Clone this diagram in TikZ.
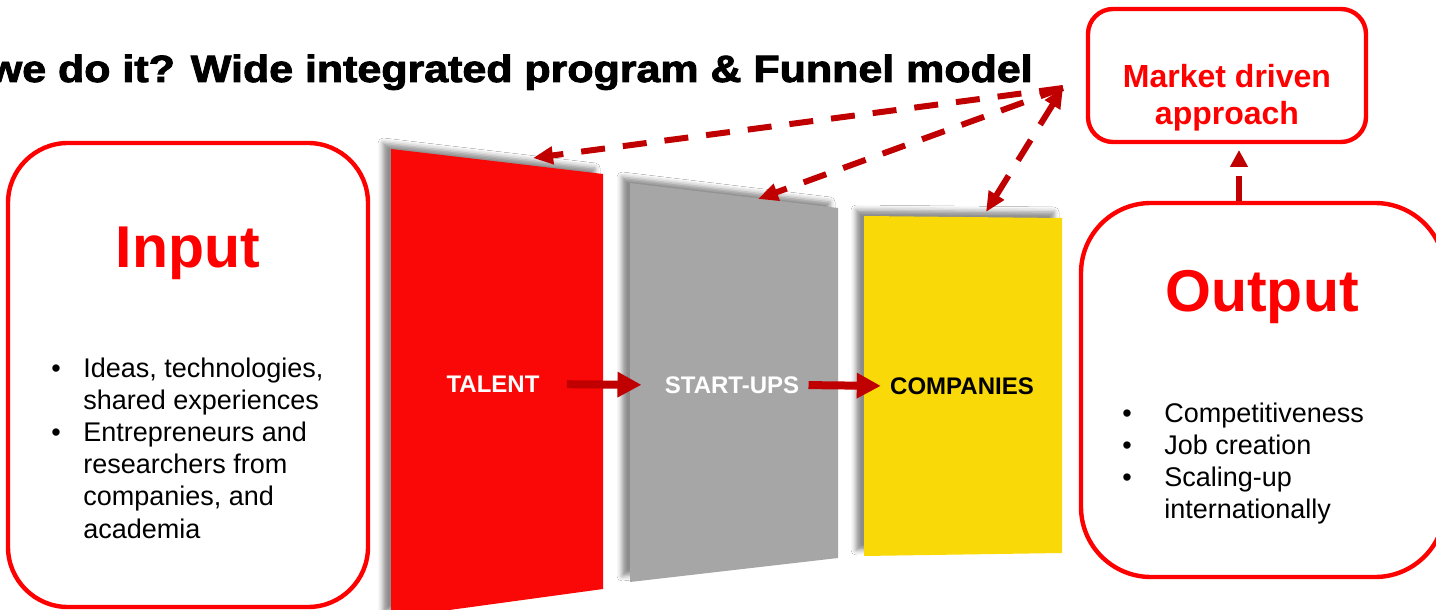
\documentclass[tikz,border=0pt]{standalone}
\usepackage{fontspec}
\setmainfont{Liberation Sans}
\newfontfamily\heavyfont{Liberation Sans Bold}[FakeBold=2.2]
\usetikzlibrary{arrows.meta,shadows.blur}
\definecolor{boxred}{RGB}{255,0,0}
\definecolor{darkred}{RGB}{192,0,0}
\definecolor{panelred}{RGB}{250,8,8}
\definecolor{panelgray}{RGB}{166,166,166}
\definecolor{panelyellow}{RGB}{249,217,8}
\tikzset{
  redbox/.style={draw=boxred, line width=2.2pt, fill=white},
  panelshadow/.style={blur shadow={shadow xshift=-4pt, shadow yshift=3pt, shadow blur radius=2.5pt, shadow opacity=45}},
  paneltext/.style={inner sep=0pt, font=\fontsize{12}{14}\selectfont\bfseries},
  flowarrow/.style={draw=darkred, line width=4pt, -{Triangle[length=12pt,width=12pt]}},
  dasharrow/.style={draw=darkred, line width=3pt, dash pattern=on 12pt off 9pt, -{Triangle[length=10pt,width=8.5pt]}},
  bigtitle/.style={inner sep=0pt, text=boxred, font=\fontsize{29.5}{32}\selectfont\bfseries},
  listtext/.style={inner sep=0pt, anchor=base west, font=\fontsize{13.5}{16.1}\selectfont},
  mkttext/.style={inner sep=0pt, anchor=base, text=boxred, font=\fontsize{16}{19}\selectfont\bfseries}
}
\begin{document}
\begin{tikzpicture}[x=0.5pt, y=-0.5pt]
\useasboundingbox (0,0) rectangle (1436,610);
\fill[white] (0,0) rectangle (1436,610);

% title
\node[inner sep=0pt, anchor=base east] (title) at (1033,82)
  {\heavyfont\fontsize{19}{22}\selectfont\scalebox{1.13}[1]{we do it? Wide integrated program \& Funnel model}};

% input box
\node[redbox, rounded corners=30pt, minimum width=180pt, minimum height=232pt] (inbox) at (188,375) {};
\node[bigtitle, anchor=base] (intitle) at (188,267) {Input};
\node[listtext] (inlist) at (51,377) {\begin{tabular}[t]{@{}p{16pt}@{}l@{}}
\textbullet & Ideas, technologies,\\
 & shared experiences\\
\textbullet & Entrepreneurs and\\
 & researchers from\\
 & companies, and\\
 & academia
\end{tabular}};

% funnel panels
\fill[panelred, panelshadow] (391,149) -- (603,174) -- (603,589) -- (391,618) -- cycle;
\fill[panelgray, panelshadow] (630,183) -- (838,208) -- (838,558) -- (630,582) -- cycle;
\fill[panelyellow, panelshadow] (864,216) -- (1062,218) -- (1062,553) -- (864,556) -- cycle;

\node[paneltext, text=white] (talent) at (493,384) {TALENT};
\node[paneltext, text=white] (startups) at (732,385) {START-UPS};
\node[paneltext, text=black] (companies) at (962,386) {COMPANIES};

\draw[flowarrow, shorten <=13.5pt, shorten >=11.5pt] (talent.east) -- (startups.west);
\draw[flowarrow, shorten <=4.5pt, shorten >=4.5pt] (startups.east) -- (companies.west);

% market box
\node[redbox, rounded corners=12.5pt, minimum width=139pt, minimum height=66.5pt] (mkt) at (1227,75.5) {};
\node[mkttext] (mkt1) at (1227,87.5) {Market driven};
\node[mkttext] (mkt2) at (1227,125) {approach};

% output box
\node[redbox, rounded corners=35pt, minimum width=182pt, minimum height=187pt] (outbox) at (1263,390) {};
\node[bigtitle, anchor=base] (outtitle) at (1262,311) {Output};
\node[listtext] (outlist) at (1122,422) {\begin{tabular}[t]{@{}p{21pt}@{}l@{}}
\textbullet & Competitiveness\\
\textbullet & Job creation\\
\textbullet & Scaling-up\\
 & internationally
\end{tabular}};

% dashed connectors
\coordinate (hub) at (1063,88);
\coordinate (talentTop) at (533,158);
\coordinate (startTop) at (758,199);
\coordinate (compTop) at (986,212);
\coordinate (vtip) at (1239,150);
\draw[dasharrow] (hub) -- (talentTop);
\draw[dasharrow] (hub) -- (startTop);
\draw[dasharrow, {Triangle[length=10pt,width=8.5pt]}-{Triangle[length=10pt,width=8.5pt]}] (compTop) -- (hub);
\draw[dasharrow, dash pattern=on 12.5pt off 9pt, -{Triangle[length=8.5pt,width=8.5pt]}] (outbox.north -| vtip) -- (vtip);
\end{tikzpicture}
\end{document}
